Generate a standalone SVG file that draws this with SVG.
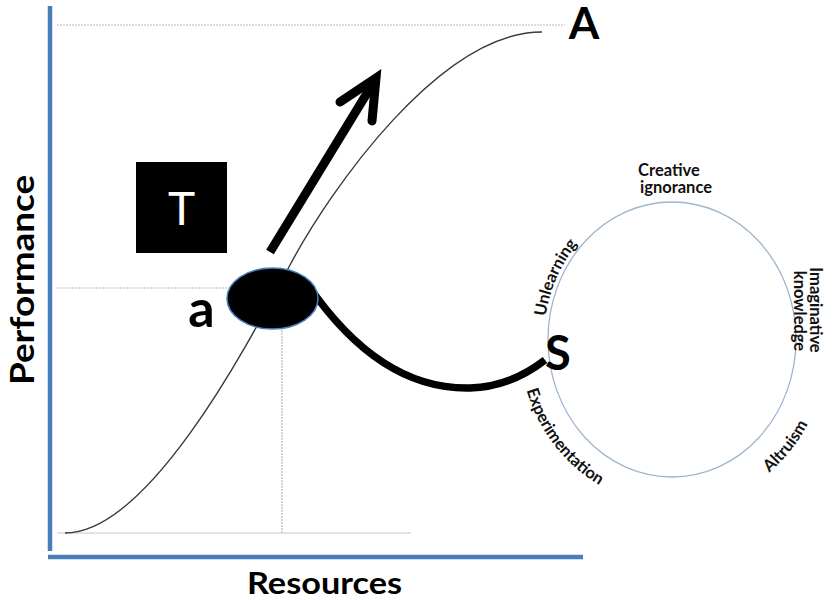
<svg xmlns="http://www.w3.org/2000/svg" xmlns:xlink="http://www.w3.org/1999/xlink" width="835" height="600" viewBox="0 0 835 600">
<style>
.axis{stroke:#4a7ebb;stroke-width:4.5;fill:none}
.guide{stroke:#b8b8b8;stroke-width:1.2;stroke-dasharray:2 1;fill:none}
.base{stroke:#c8c8c8;stroke-width:1.2;fill:none}
.big{font-family:Lato,"Open Sans","Liberation Sans",sans-serif;font-weight:bold;fill:#000}
.small{font-family:Lato,"Open Sans","Liberation Sans",sans-serif;font-weight:bold;font-size:16.5px;fill:#111}
.thick{stroke:#000;fill:none}
</style>
<defs>
<path id="pUn" d="M544,339 A128 141 0 0 1 593.2,227.9"/>
<path id="pEx" d="M522.9,376.3 A153 166 0 0 0 612.2,491.8"/>
<path id="pAl" d="M755.2,483.2 A157 170 0 0 0 815.4,408.1"/>
</defs>
<rect width="835" height="600" fill="#fff"/>
<g id="axes">
<line class="axis" x1="50" y1="6" x2="50" y2="551"/>
<line class="axis" x1="48" y1="557" x2="583" y2="557"/>
<text class="big" font-size="33" transform="translate(34,280) rotate(-90)" text-anchor="middle" textLength="210" lengthAdjust="spacingAndGlyphs">Performance</text>
<text class="big" font-size="31" x="247" y="594" textLength="155" lengthAdjust="spacingAndGlyphs">Resources</text>
</g>
<g id="guides">
<line class="guide" x1="57" y1="25" x2="565" y2="25"/>
<line class="guide" x1="57" y1="288" x2="232" y2="288"/>
<line class="guide" x1="282" y1="300" x2="282" y2="533"/>
<line class="base" x1="57" y1="533" x2="411" y2="533"/>
</g>
<g id="s-curve">
<path d="M65,533 C150,533 250,340 290,265 C330,190 440,32 542,32" fill="none" stroke="#3a3a3a" stroke-width="1.4"/>
<text class="big" font-size="44" x="584" y="39" text-anchor="middle">A</text>
</g>
<g id="connectors">
<path class="thick" d="M270,252 L372,85" stroke-width="9"/>
<path class="thick" d="M340,102 L376,78 L372,121" stroke-width="9" stroke-linecap="round" stroke-linejoin="miter"/>
<path class="thick" d="M308,285 Q380,390 470,388 Q510,387 545,360" stroke-width="7.5"/>
</g>
<g id="node-T">
<rect x="136" y="162" width="91" height="91" fill="#000"/>
<text x="181.5" y="225" font-family="Lato,'Open Sans','Liberation Sans',sans-serif" font-size="46" fill="#fff" text-anchor="middle">T</text>
</g>
<g id="node-a">
<ellipse cx="272.5" cy="298.5" rx="45.5" ry="30.5" fill="#000" stroke="#4a7ebb" stroke-width="1.5"/>
<text class="big" font-size="52" x="201.5" y="327" text-anchor="middle">a</text>
</g>
<g id="node-S">
<ellipse cx="672" cy="339.5" rx="124" ry="137.5" fill="none" stroke="#9fb4cf" stroke-width="1.3"/>
<text class="big" font-size="47" x="545" y="370">S</text>
<text class="small" font-size="17.5" x="669" y="176" text-anchor="middle">Creative</text>
<text class="small" font-size="17.5" x="676" y="193" text-anchor="middle">ignorance</text>
<text class="small"><textPath xlink:href="#pUn" href="#pUn" startOffset="50%" text-anchor="middle">Unlearning</textPath></text>
<text class="small" font-size="16.5"><textPath xlink:href="#pEx" href="#pEx" startOffset="50%" text-anchor="middle">Experimentation</textPath></text>
<text class="small" font-size="17.5"><textPath xlink:href="#pAl" href="#pAl" startOffset="50%" text-anchor="middle">Altruism</textPath></text>
<text class="small" transform="translate(810,310) rotate(90)" text-anchor="middle">Imaginative</text>
<text class="small" transform="translate(794,311) rotate(90)" text-anchor="middle">knowledge</text>
</g>
</svg>
